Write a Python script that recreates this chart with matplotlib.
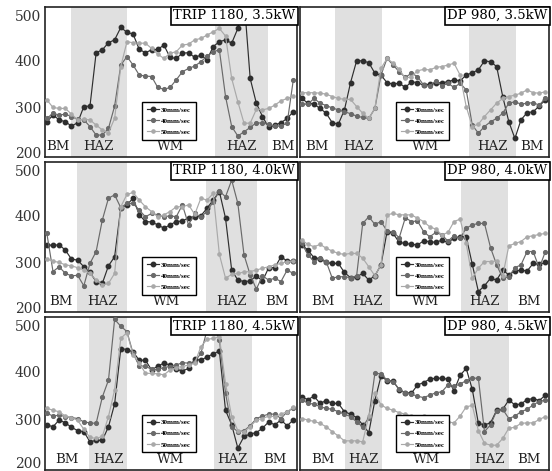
import numpy as np
import matplotlib
matplotlib.use('Agg')
import matplotlib.pyplot as plt
import matplotlib.transforms as mtransforms

# Hardness profiles (Hv) across the weld, 41 indents per line
speeds = ['30mm/sec', '40mm/sec', '50mm/sec']
zone_names = ['BM', 'HAZ', 'WM', 'HAZ', 'BM']
titles = ['TRIP 1180, 3.5kW', 'DP 980, 3.5kW',
          'TRIP 1180, 4.0kW', 'DP 980, 4.0kW',
          'TRIP 1180, 4.5kW', 'DP 980, 4.5kW']

# HAZ limits in indent-index units for each panel
haz_zones = [(3.9, 13.0, 27.3, 35.9), (5.4, 13.2, 27.4, 35.1),
             (4.9, 13.0, 25.8, 34.1), (7.1, 14.5, 26.1, 33.9),
             (6.9, 13.0, 27.1, 33.3), (7.1, 13.2, 27.7, 34.0)]

trip_35_30 = [271, 285, 275, 271, 262, 269, 303, 304, 416, 422, 437, 443, 469, 459, 455, 423, 416, 422, 423, 432, 406,
              404, 415, 416, 406, 411, 401, 429, 439, 443, 436, 467, 530, 362, 310, 282, 259, 264, 269, 278, 292]
trip_35_40 = [278, 289, 285, 287, 282, 276, 275, 261, 243, 243, 257, 304, 390, 408, 390, 369, 367, 366, 343, 339, 343,
              359, 376, 383, 388, 397, 409, 418, 422, 324, 261, 241, 250, 259, 269, 268, 266, 262, 262, 268, 359]
trip_35_50 = [317, 301, 299, 299, 287, 275, 276, 275, 264, 254, 248, 278, 387, 439, 437, 436, 436, 425, 413, 404, 415,
              418, 432, 434, 443, 446, 453, 460, 467, 451, 362, 313, 268, 268, 297, 296, 299, 306, 315, 320, 325]

dp_35_30 = [320, 310, 308, 299, 289, 269, 266, 296, 353, 399, 399, 395, 373, 369, 353, 350, 352, 343, 355, 353, 348,
            350, 352, 353, 355, 359, 357, 369, 374, 380, 399, 397, 387, 324, 271, 236, 275, 290, 292, 304, 317]
dp_35_40 = [308, 308, 320, 310, 305, 300, 296, 292, 288, 283, 280, 278, 299, 369, 404, 390, 376, 364, 373, 366, 348,
            346, 357, 346, 352, 343, 352, 338, 264, 247, 261, 271, 278, 289, 310, 313, 308, 310, 311, 306, 320]
dp_35_50 = [332, 332, 332, 331, 329, 324, 320, 318, 318, 303, 289, 278, 299, 383, 404, 394, 381, 362, 366, 378, 381,
            380, 385, 387, 390, 394, 369, 303, 261, 266, 282, 296, 310, 320, 324, 327, 331, 338, 332, 331, 334]

trip_40_30 = [338, 337, 338, 327, 308, 306, 292, 280, 261, 257, 294, 313, 416, 422, 436, 401, 387, 386, 380, 373, 380,
              387, 388, 395, 397, 399, 415, 432, 450, 394, 285, 264, 261, 262, 273, 262, 290, 290, 313, 304, 304]
trip_40_40 = [362, 282, 292, 278, 273, 274, 252, 299, 324, 390, 436, 443, 416, 425, 425, 411, 397, 404, 401, 397, 399,
              397, 422, 380, 404, 397, 408, 429, 451, 439, 474, 425, 317, 275, 245, 273, 264, 268, 261, 285, 278]
trip_40_50 = [308, 304, 301, 296, 294, 290, 285, 278, 264, 254, 257, 278, 418, 444, 448, 432, 418, 408, 397, 401, 408,
              418, 418, 422, 402, 436, 432, 446, 318, 268, 276, 278, 281, 282, 285, 289, 292, 296, 299, 303, 304]

dp_40_30 = [338, 327, 311, 309, 301, 299, 299, 280, 269, 271, 278, 264, 273, 296, 366, 362, 343, 341, 339, 338, 346,
            345, 343, 348, 343, 352, 355, 355, 297, 240, 252, 268, 264, 285, 275, 283, 285, 283, 299, 297, 301]
dp_40_40 = [341, 317, 303, 310, 303, 268, 271, 271, 269, 273, 383, 397, 381, 387, 367, 365, 353, 395, 387, 388, 366,
            355, 364, 359, 346, 357, 352, 373, 380, 383, 383, 332, 296, 268, 271, 290, 296, 324, 324, 289, 324]
dp_40_50 = [348, 339, 334, 339, 331, 325, 320, 318, 320, 320, 310, 292, 273, 296, 401, 404, 401, 401, 401, 394, 387,
            376, 371, 359, 364, 387, 392, 341, 268, 289, 303, 303, 304, 273, 336, 341, 345, 355, 357, 360, 362]

trip_45_30 = [290, 286, 300, 294, 285, 278, 276, 255, 258, 258, 286, 333, 447, 445, 440, 423, 423, 403, 411, 417, 413,
              404, 401, 406, 425, 423, 430, 436, 442, 320, 290, 242, 266, 271, 274, 283, 296, 290, 300, 288, 300]
trip_45_40 = [314, 308, 310, 307, 305, 303, 296, 294, 293, 347, 382, 507, 493, 482, 437, 411, 411, 404, 404, 408, 410,
              413, 418, 417, 420, 437, 485, 499, 465, 355, 286, 276, 278, 288, 303, 308, 312, 312, 303, 317, 324]
trip_45_50 = [324, 320, 317, 308, 305, 299, 281, 264, 262, 266, 307, 362, 468, 480, 434, 417, 396, 396, 395, 393, 403,
              408, 410, 413, 417, 451, 466, 468, 471, 375, 307, 278, 276, 286, 300, 303, 308, 307, 312, 317, 326]

dp_45_30 = [347, 342, 349, 334, 340, 334, 334, 317, 312, 305, 290, 274, 340, 390, 381, 380, 362, 356, 355, 372, 377,
            384, 386, 386, 384, 360, 392, 406, 363, 293, 290, 294, 320, 322, 341, 331, 333, 342, 344, 340, 351]
dp_45_40 = [342, 334, 333, 327, 324, 322, 317, 312, 307, 296, 286, 305, 396, 395, 382, 379, 363, 356, 353, 349, 346,
            351, 356, 358, 372, 369, 374, 381, 386, 386, 276, 290, 319, 322, 303, 308, 317, 322, 331, 338, 341]
dp_45_50 = [303, 300, 297, 293, 286, 276, 267, 257, 257, 257, 255, 308, 355, 331, 324, 320, 315, 312, 308, 305, 308,
            303, 305, 301, 296, 294, 308, 327, 330, 278, 252, 248, 248, 262, 283, 285, 293, 294, 294, 301, 307]

panel_data = [(trip_35_30, trip_35_40, trip_35_50), (dp_35_30, dp_35_40, dp_35_50),
              (trip_40_30, trip_40_40, trip_40_50), (dp_40_30, dp_40_40, dp_40_50),
              (trip_45_30, trip_45_40, trip_45_50), (dp_45_30, dp_45_40, dp_45_50)]

colors = ['#2e2e2e', '#6a6a6a', '#a9a9a9']
msizes = [3.2, 2.7, 2.3]
serif = 'DejaVu Serif'

W, H = 552, 471
col_px = [(45, 297), (300, 549)]
row_px = [(7, 157), (162, 312), (317, 470)]
XLIM = (-0.3, 40.6)
YLIM = (197, 512)

fig = plt.figure(figsize=(W / 100, H / 100), dpi=100)

for i, series in enumerate(panel_data):
    r, c = divmod(i, 2)
    x0, x1 = col_px[c]
    y0, y1 = row_px[r]
    ax = fig.add_axes([x0 / W, 1 - y1 / H, (x1 - x0) / W, (y1 - y0) / H])
    ax.set_xlim(*XLIM)
    ax.set_ylim(*YLIM)

    h1, h2, h3, h4 = haz_zones[i]
    ax.axvspan(h1, h2, color='#e0e0e0', lw=0, zorder=0)
    ax.axvspan(h3, h4, color='#e0e0e0', lw=0, zorder=0)

    for vals, lab, col, ms in zip(series, speeds, colors, msizes):
        xs = np.arange(len(vals))
        ax.plot(xs, vals, '-o', color=col, lw=0.85, ms=ms, label=lab, zorder=3)

    # zone labels centred in each region
    edges = [XLIM[0], h1, h2, h3, h4, XLIM[1]]
    for k, name in enumerate(zone_names):
        ax.text((edges[k] + edges[k + 1]) / 2, 0.07, name, transform=ax.get_xaxis_transform(),
                ha='center', va='center', family=serif, fontsize=9.5, color='#222222', zorder=4)

    ax.text(0.993, 0.985, titles[i], transform=ax.transAxes, ha='right', va='top',
            family=serif, fontsize=9.5, zorder=5,
            bbox=dict(boxstyle='square,pad=0.18', facecolor='white', edgecolor='black', lw=1.2))

    leg = ax.legend(loc='lower left', bbox_to_anchor=(0.385, 0.115), frameon=True, fancybox=False,
                    prop=dict(family='Liberation Serif', weight='bold', size=5),
                    handlelength=1.8, handletextpad=0.2, borderpad=0.7, labelspacing=0.75,
                    borderaxespad=0)
    leg.get_frame().set_edgecolor('black')
    leg.get_frame().set_linewidth(1.0)
    leg.get_frame().set_alpha(1)

    ax.set_xticks([])
    ax.set_yticks([200, 300, 400, 500])
    ax.tick_params(axis='y', length=0, pad=3)
    if c == 0:
        ax.set_yticklabels(['200', '300', '400', '500'], family=serif, fontsize=10, color='#333333')
        labels = ax.get_yticklabels()
        # nudge the outer labels apart so stacked panels don't collide
        lift = 4 if r == 2 else 2.5
        up = mtransforms.ScaledTranslation(0, lift / 72, fig.dpi_scale_trans)
        down = mtransforms.ScaledTranslation(0, -2 / 72, fig.dpi_scale_trans)
        labels[0].set_transform(labels[0].get_transform() + up)
        labels[-1].set_transform(labels[-1].get_transform() + down)
    else:
        ax.set_yticklabels([])
    for sp in ax.spines.values():
        sp.set_linewidth(1.2)
        sp.set_color('#222222')

fig.savefig('out.png', dpi=100)
